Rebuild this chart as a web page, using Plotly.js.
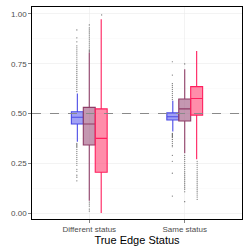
<!DOCTYPE html>
<html><head><meta charset="utf-8">
<script src="https://cdn.plot.ly/plotly-3.0.1.min.js"></script>
<style>html,body{margin:0;padding:0;background:#fff}#chart{width:248px;height:248px}</style>
</head><body><div id="chart"></div>
<script>
// Categories
const categories = ["Different status", "Same status"];
const seriesNames = ["A", "B", "C"];
// Box statistics per series: [Different status, Same status]
const q1 = [[0.447, 0.467], [0.342, 0.462], [0.205, 0.492]];
const median = [[0.481, 0.484], [0.447, 0.523], [0.375, 0.575]];
const q3 = [[0.509, 0.503], [0.531, 0.573], [0.523, 0.635]];
const lowerFence = [[0.358, 0.409], [0.062, 0.300], [0.000, 0.270]];
const upperFence = [[0.601, 0.564], [0.807, 0.722], [0.973, 0.814]];
// Outliers per series, per category
const outDiffA = [0.61,0.62,0.63,0.64,0.65,0.66,0.67,0.68,0.69,0.70,0.71,0.72,0.73,0.74,0.75,0.76,0.77,0.78,0.79,0.80,0.81,0.82,0.83,0.84,0.86,0.88,0.92,
  0.35,0.345,0.34,0.335,0.33,0.32,0.31,0.30,0.29,0.28,0.27,0.26,0.25,0.24,0.22,0.21,0.19,0.18,0.162];
const outSameA = [0.57,0.58,0.59,0.60,0.61,0.62,0.63,0.64,0.65,0.693,0.76,
  0.40,0.395,0.39,0.385,0.38,0.37,0.36,0.35,0.34,0.333,0.29,0.26,0.20,0.085];
const outDiffB = [0.81,0.815,0.82,0.83,0.84,0.85,0.86,0.87,0.88,0.89,0.90,0.91,0.92,0.93,0.945,
  0.055,0.045,0.035,0.02,0.01];
const outSameB = [0.749,
  0.29,0.28,0.27,0.26,0.25,0.24,0.23,0.22,0.21,0.20,0.19,0.18,0.17,0.16,0.15,0.14,0.13,0.12,0.107,0.057];
const outDiffC = [0.995];
const outSameC = [0.26,0.25,0.24,0.23,0.22,0.21,0.20,0.19,0.18,0.17,0.16,0.15,0.14,0.13,0.12,0.11,0.10,0.09,0.08,0.069];
const outliers = [[outDiffA, outSameA], [outDiffB, outSameB], [outDiffC, outSameC]];
const threshold = 0.5;

const lineColors = ["#4b4be6", "#8e3d67", "#ff1f5e"];
const fillColors = ["rgba(110,110,240,0.65)", "rgba(165,95,135,0.65)", "rgba(255,80,125,0.65)"];
const offsets = [-0.13, 0, 0.13];

const traces = [];
for (let s = 0; s < 3; s++) {
  traces.push({
    type: "box", name: seriesNames[s], x: [0, 1],
    q1: q1[s], median: median[s], q3: q3[s],
    lowerfence: lowerFence[s], upperfence: upperFence[s],
    line: {color: lineColors[s], width: 1.1},
    fillcolor: fillColors[s], whiskerwidth: 0, showlegend: false, hoverinfo: "skip"
  });
}
for (let s = 0; s < 3; s++) {
  const xs = [], ys = [];
  for (let c = 0; c < 2; c++) {
    outliers[s][c].forEach(v => { xs.push(c + offsets[s]); ys.push(v); });
  }
  traces.push({
    type: "scatter", mode: "markers", x: xs, y: ys,
    marker: {color: "rgba(0,0,0,0.6)", size: 1.2},
    showlegend: false, hoverinfo: "skip"
  });
}

const layout = {
  width: 248, height: 248,
  margin: {l: 32, r: 6, t: 7, b: 29},
  paper_bgcolor: "#fff", plot_bgcolor: "#fff",
  boxmode: "group", boxgap: 0.625, boxgroupgap: 0,
  font: {family: "Liberation Sans, Arial, sans-serif", color: "#4d4d4d", size: 8},
  xaxis: {
    range: [-0.6, 1.6], tickmode: "array", tickvals: [0, 1], ticktext: categories,
    showgrid: true, gridcolor: "#ebebeb", gridwidth: 0.6, zeroline: false,
    showline: true, mirror: true, linecolor: "#000", linewidth: 1.2,
    ticks: "outside", ticklen: 2.5, tickcolor: "#333", tickwidth: 0.6,
    tickfont: {size: 8, color: "#4d4d4d"},
    title: {text: "True Edge Status", font: {size: 11, color: "#000"}, standoff: 2}
  },
  yaxis: {
    range: [-0.03, 1.035], tickvals: [0, 0.25, 0.5, 0.75, 1],
    ticktext: ["0.00", "0.25", "0.50", "0.75", "1.00"],
    showgrid: true, gridcolor: "#ebebeb", gridwidth: 0.6, zeroline: false,
    minor: {tickvals: [0.125, 0.375, 0.625, 0.875], showgrid: true, gridcolor: "#f4f4f4", gridwidth: 0.4},
    showline: true, mirror: true, linecolor: "#000", linewidth: 1.2,
    ticks: "outside", ticklen: 2.5, tickcolor: "#333", tickwidth: 0.6,
    tickfont: {size: 8, color: "#4d4d4d"}
  },
  shapes: [{type: "line", xref: "paper", x0: 0, x1: 1, yref: "y", y0: threshold, y1: threshold,
    line: {color: "#8a8a8a", width: 1, dash: "dash"}, layer: "above"}]
};
Plotly.newPlot("chart", traces, layout, {staticPlot: true, displayModeBar: false});
</script></body></html>
